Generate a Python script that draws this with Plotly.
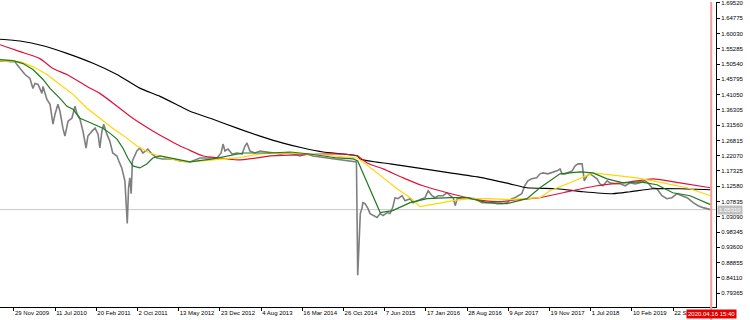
import plotly.graph_objects as go

# ---------------- data ----------------
price_dates = ["2009-09-14","2009-10-11","2009-11-07","2009-12-04","2009-12-15","2010-01-01","2010-01-28","2010-02-24",
 "2010-03-12","2010-03-23","2010-04-09","2010-04-30","2010-05-06","2010-05-27","2010-06-13","2010-06-29","2010-07-10",
 "2010-07-26","2010-08-06","2010-08-22","2010-09-02","2010-09-19","2010-10-10","2010-10-27","2010-11-07","2010-11-23",
 "2010-12-09","2010-12-26","2011-01-05","2011-01-27","2011-02-13","2011-03-01","2011-03-11","2011-03-22","2011-04-01",
 "2011-04-18","2011-05-04","2011-05-20","2011-06-12","2011-06-22","2011-07-08","2011-07-25","2011-08-07","2011-08-14",
 "2011-08-21","2011-08-28","2011-09-04","2011-09-28","2011-10-14","2011-10-31","2011-11-27","2011-12-19","2012-01-15",
 "2012-02-16","2012-04-11","2012-05-20","2012-07-13","2012-09-06","2012-11-15","2012-12-07","2012-12-29","2013-01-09",
 "2013-01-19","2013-02-05","2013-02-27","2013-03-26","2013-04-22","2013-05-08","2013-05-19","2013-06-04","2013-07-01",
 "2013-07-29","2013-09-05","2013-10-08","2013-11-15","2013-12-23","2014-01-24","2014-03-03","2014-04-10","2014-05-13",
 "2014-06-20","2014-07-28","2014-08-30","2014-10-07","2014-11-30","2015-01-04","2015-01-11","2015-01-18","2015-01-25",
 "2015-02-04","2015-02-08","2015-02-20","2015-03-08","2015-03-19","2015-04-04","2015-04-26","2015-05-13","2015-05-29",
 "2015-06-20","2015-07-06","2015-07-20","2015-08-02","2015-08-18","2015-09-09","2015-09-25","2015-10-23","2015-11-08",
 "2015-11-30","2015-12-27","2016-01-12","2016-01-29","2016-02-19","2016-03-07","2016-03-23","2016-04-19","2016-05-11",
 "2016-05-27","2016-06-13","2016-06-24","2016-07-05","2016-08-01","2016-08-28","2016-09-12","2016-10-09","2016-10-26",
 "2016-11-16","2016-12-14","2017-01-11","2017-02-07","2017-03-06","2017-04-01","2017-04-28","2017-05-14","2017-05-30",
 "2017-06-21","2017-07-07","2017-07-24","2017-08-14","2017-09-10","2017-09-28","2017-10-14","2017-11-10","2017-12-02",
 "2017-12-30","2018-01-15","2018-01-26","2018-02-12","2018-02-28","2018-03-22","2018-04-07","2018-04-23","2018-05-15",
 "2018-05-20","2018-05-27","2018-06-10","2018-06-27","2018-07-13","2018-08-04","2018-08-20","2018-09-05","2018-09-28",
 "2018-10-14","2018-11-11","2018-12-08","2019-01-04","2019-01-31","2019-02-27","2019-03-26","2019-04-22","2019-05-08",
 "2019-05-30","2019-06-26","2019-07-23","2019-08-19","2019-09-15","2019-10-13","2019-11-09","2019-12-07","2020-01-09",
 "2020-02-05","2020-03-03","2020-03-25","2020-04-12"]
price_vals = [1.5146,1.5162,1.5131,1.5131,1.5038,1.4915,1.4729,1.4606,
 1.4297,1.4452,1.4421,1.4143,1.4359,1.3957,1.3803,1.3186,1.3494,
 1.3803,1.3587,1.3062,1.2815,1.3278,1.3371,1.3741,1.3494,1.3340,
 1.2970,1.2445,1.2815,1.2970,1.3062,1.2877,1.2445,1.2970,1.3186,
 1.2877,1.2661,1.2290,1.2198,1.2043,1.1827,1.1426,1.0099,1.1210,
 1.1518,1.1025,1.2043,1.2352,1.2445,1.2290,1.2414,1.2259,1.2136,
 1.2105,1.2105,1.2043,1.2013,1.2136,1.2136,1.2136,1.2290,1.2568,
 1.2352,1.2414,1.2259,1.2290,1.2259,1.2507,1.2599,1.2352,1.2290,
 1.2352,1.2321,1.2290,1.2259,1.2290,1.2259,1.2198,1.2259,1.2198,
 1.2167,1.2136,1.2105,1.2074,1.2043,1.2013,0.8493,0.9790,1.0407,
 1.0593,1.0747,1.0716,1.0562,1.0407,1.0346,1.0284,1.0407,1.0346,
 1.0438,1.0407,1.0593,1.0902,1.0871,1.0963,1.0809,1.0871,1.0747,
 1.0809,1.0871,1.0902,1.1118,1.0963,1.0902,1.0963,1.0963,1.1056,
 1.0963,1.0902,1.0654,1.0871,1.0902,1.0902,1.0871,1.0871,1.0809,
 1.0747,1.0747,1.0747,1.0716,1.0716,1.0747,1.0871,1.0902,1.0963,
 1.1025,1.1272,1.1426,1.1488,1.1518,1.1642,1.1673,1.1642,1.1673,
 1.1735,1.1797,1.1642,1.1642,1.1673,1.1735,1.1889,1.1951,1.1951,
 1.1735,1.1426,1.1580,1.1642,1.1580,1.1488,1.1333,1.1272,1.1426,
 1.1364,1.1333,1.1333,1.1272,1.1364,1.1333,1.1364,1.1426,1.1364,
 1.1210,1.1179,1.0963,1.0871,1.0902,1.1025,1.0963,1.0902,1.0747,
 1.0654,1.0593,1.0562,1.0531]

ma_black_dates = ["2009-09-14","2010-01-01","2010-05-06","2010-09-13","2011-02-02","2011-06-12","2011-10-14","2012-02-01",
 "2012-05-20","2012-07-13","2012-11-15","2013-03-26","2013-07-29","2013-12-01","2014-03-20","2014-07-07","2014-10-23",
 "2015-01-11","2015-01-24","2015-07-06","2015-11-30","2016-05-27","2016-11-23","2017-04-17","2017-07-19","2017-12-30",
 "2018-05-20","2018-10-31","2019-01-31","2019-06-04","2019-10-29","2020-04-12"]
ma_black_vals = [1.5825,1.5770,1.5624,1.5387,1.5078,1.4729,1.4306,1.4050,
 1.3741,1.3587,1.3340,1.3062,1.2815,1.2599,1.2445,1.2321,1.2259,
 1.2198,1.2105,1.1951,1.1827,1.1673,1.1518,1.1333,1.1210,1.1179,
 1.1086,1.1025,1.1086,1.1179,1.1179,1.1148]

ma_red_dates = ["2009-09-14","2010-01-01","2010-04-19","2010-06-29","2010-09-13","2010-12-31","2011-03-11","2011-06-27",
 "2011-09-06","2011-12-08","2012-03-10","2012-05-20","2012-06-27","2012-09-22","2012-12-23","2013-03-26","2013-07-13",
 "2013-09-21","2014-02-15","2014-06-20","2014-10-23","2015-01-11","2015-03-03","2015-05-29","2015-09-15","2016-01-01",
 "2016-05-11","2016-08-28","2016-11-23","2017-02-22","2017-05-25","2017-09-28","2018-02-01","2018-08-04","2019-01-31",
 "2019-06-04","2019-10-29","2020-04-12"]
ma_red_vals = [1.5656,1.5439,1.5223,1.4915,1.4729,1.4359,1.4143,1.3680,
 1.3371,1.3032,1.2723,1.2507,1.2414,1.2198,1.2136,1.2074,1.2136,
 1.2198,1.2229,1.2259,1.2259,1.2198,1.1982,1.1797,1.1518,1.1272,
 1.1056,1.0902,1.0809,1.0778,1.0840,1.0902,1.1056,1.1272,1.1395,
 1.1488,1.1364,1.1210]

ma_yellow_dates = ["2009-09-14","2010-01-01","2010-03-12","2010-05-27","2010-08-06","2010-10-16","2010-12-31","2011-03-11",
 "2011-05-20","2011-08-05","2011-09-28","2011-12-08","2012-03-10","2012-05-20","2012-07-13","2012-11-15","2013-03-26",
 "2013-07-29","2013-12-01","2014-04-27","2014-09-21","2015-01-11","2015-04-26","2015-08-13","2015-10-23","2015-12-16",
 "2016-03-17","2016-06-13","2016-09-12","2016-12-31","2017-04-17","2017-07-19","2017-09-28","2017-11-21","2018-03-10",
 "2018-07-13","2018-10-31","2019-03-09","2019-07-29","2019-12-07","2020-04-12"]
ma_yellow_vals = [1.5162,1.5131,1.4976,1.4729,1.4421,1.4112,1.3680,1.3371,
 1.3062,1.2753,1.2507,1.2291,1.2136,1.2043,1.2013,1.2074,1.2136,
 1.2259,1.2290,1.2259,1.2198,1.2136,1.1673,1.1179,1.0902,1.0624,
 1.0716,1.0809,1.0871,1.0871,1.0840,1.0871,1.0902,1.1118,1.1364,
 1.1673,1.1611,1.1518,1.1364,1.1210,1.0963]

ma_green_dates = ["2009-09-14","2009-11-24","2010-01-17","2010-03-12","2010-05-06","2010-06-13","2010-08-06","2010-09-13",
 "2010-10-16","2010-11-23","2010-12-31","2011-02-02","2011-03-27","2011-05-04","2011-06-12","2011-07-14","2011-08-10",
 "2011-09-06","2011-10-14","2011-11-21","2011-12-24","2012-02-01","2012-03-26","2012-05-20","2012-07-13","2012-11-15",
 "2013-02-16","2013-04-27","2013-09-21","2014-01-08","2014-04-27","2014-09-21","2014-12-17","2015-01-11","2015-05-13",
 "2015-07-20","2015-10-23","2016-01-23","2016-05-27","2016-08-28","2016-12-14","2017-04-01","2017-07-19","2017-09-28",
 "2018-01-15","2018-05-04","2018-07-13","2018-09-28","2018-12-24","2019-03-26","2019-06-26","2019-09-20","2019-12-23",
 "2020-04-12"]
ma_green_vals = [1.5193,1.5162,1.5069,1.4884,1.4575,1.4297,1.3988,1.3741,
 1.3649,1.3371,1.3278,1.3186,1.3062,1.2908,1.2723,1.2445,1.2136,
 1.1889,1.1827,1.1951,1.2136,1.2198,1.2136,1.2074,1.2013,1.2105,
 1.2198,1.2290,1.2290,1.2321,1.2259,1.2136,1.2105,1.2043,1.0438,
 1.0500,1.0747,1.0871,1.0902,1.0902,1.0747,1.0716,1.0871,1.1210,
 1.1642,1.1704,1.1673,1.1488,1.1364,1.1395,1.1303,1.1056,1.0963,
 1.0685]

y_tick_labels = ["0.79365","0.84110","0.88855","0.93600","0.98345","1.03090","1.07835","1.12580","1.17325","1.22070",
 "1.26815","1.31560","1.36305","1.41050","1.45795","1.50540","1.55285","1.60030","1.64775","1.69520"]
x_tick_dates = ["2009-11-29","2010-07-11","2011-02-20","2011-10-02","2012-05-13","2012-12-23","2013-08-04","2014-03-16",
 "2014-10-26","2015-06-07","2016-01-17","2016-08-28","2017-04-09","2017-11-19","2018-07-01","2019-02-10","2019-09-22"]
x_tick_labels = ["29 Nov 2009","11 Jul 2010","20 Feb 2011","2 Oct 2011","13 May 2012","23 Dec 2012","4 Aug 2013",
 "16 Mar 2014","26 Oct 2014","7 Jun 2015","17 Jan 2016","28 Aug 2016","9 Apr 2017","19 Nov 2017","1 Jul 2018",
 "10 Feb 2019","22 Sep 2019"]

bid_price = 1.0531
bid_label = "1.05310"
now_date = "2020-04-16"
now_label = "2020.04.16 15:40"

# ---------------- figure ----------------
FONT = "Liberation Sans, Arial, sans-serif"
fig = go.Figure()

fig.add_trace(go.Scatter(x=price_dates, y=price_vals, mode="lines",
                         line=dict(color="#7f7f7f", width=1.6), hoverinfo="skip"))
fig.add_trace(go.Scatter(x=ma_black_dates, y=ma_black_vals, mode="lines",
                         line=dict(color="#000000", width=1.2, shape="spline", smoothing=0.6)))
fig.add_trace(go.Scatter(x=ma_red_dates, y=ma_red_vals, mode="lines",
                         line=dict(color="#dc143c", width=1.2, shape="spline", smoothing=0.6)))
fig.add_trace(go.Scatter(x=ma_yellow_dates, y=ma_yellow_vals, mode="lines",
                         line=dict(color="#ffd700", width=1.2)))
fig.add_trace(go.Scatter(x=ma_green_dates, y=ma_green_vals, mode="lines",
                         line=dict(color="#1e7a1e", width=1.2)))

# bid line
fig.add_shape(type="line", xref="paper", x0=0, x1=1, yref="y", y0=bid_price, y1=bid_price,
              line=dict(color="#c8c8c8", width=1), layer="below")
# current time vertical line
fig.add_shape(type="line", xref="x", x0=now_date, x1=now_date, yref="paper", y0=-0.06, y1=1,
              line=dict(color="#f29a9a", width=2))

fig.add_annotation(xref="paper", x=1.0, yref="y", y=bid_price, text=bid_label, showarrow=False,
                   xanchor="left", xshift=1, bgcolor="#c0c0c0", font=dict(family=FONT, size=6, color="#ffffff"),
                   borderpad=1)
fig.add_annotation(xref="x", x=now_date, yref="paper", y=0, yshift=-2, text=now_label, showarrow=False,
                   xanchor="center", yanchor="top", bgcolor="#e60000",
                   font=dict(family=FONT, size=6, color="#ffffff"), borderpad=1)

fig.update_layout(
    width=750, height=320,
    margin=dict(l=0, r=34, t=0, b=13),
    paper_bgcolor="#ffffff", plot_bgcolor="#ffffff",
    showlegend=False,
    font=dict(family=FONT, size=6, color="#000000"),
    xaxis=dict(type="date", range=["2009-09-14", "2020-05-12"], showgrid=False, zeroline=False,
               showline=True, linecolor="#000000", linewidth=1,
               tickmode="array", tickvals=x_tick_dates, ticktext=x_tick_labels,
               ticks="outside", ticklen=3, tickcolor="#000000", tickangle=0,
               ticklabelposition="outside right", ticklabeloverflow="allow",
               tickfont=dict(family=FONT, size=6, color="#000000")),
    yaxis=dict(side="right", range=[0.75046, 1.69829], showgrid=False, zeroline=False,
               showline=True, linecolor="#000000", linewidth=1,
               tickmode="array", tickvals=[float(t) for t in y_tick_labels], ticktext=y_tick_labels,
               ticks="outside", ticklen=3, tickcolor="#000000", ticklabeloverflow="allow",
               tickfont=dict(family=FONT, size=6, color="#000000")),
)

fig.write_html("out.html")
